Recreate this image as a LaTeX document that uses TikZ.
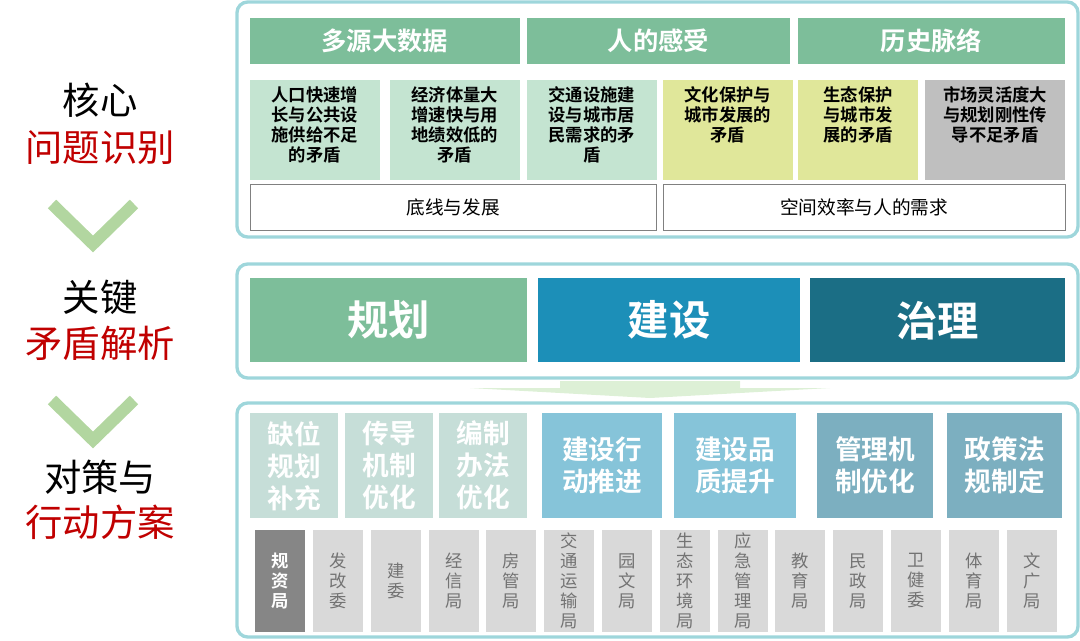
\documentclass[tikz,border=0pt]{standalone}
\usepackage{fontspec}
\setmainfont{Noto Sans CJK SC}[BoldFont={Noto Sans CJK SC Bold}]
\usetikzlibrary{positioning}
\definecolor{frame}{HTML}{9ED6DB}
\definecolor{hgreen}{HTML}{7DBE9A}
\definecolor{lgreen}{HTML}{C4E4D1}
\definecolor{lyellow}{HTML}{E0E79A}
\definecolor{lgray}{HTML}{BFBFBF}
\definecolor{pgreen}{HTML}{C6DED8}
\definecolor{pblue}{HTML}{86C4D9}
\definecolor{pteal}{HTML}{7CAFC0}
\definecolor{dblue}{HTML}{1C8FB8}
\definecolor{dteal}{HTML}{1B6E85}
\definecolor{cred}{HTML}{C00000}
\definecolor{chevc}{HTML}{B2D6A0}
\definecolor{arrowc}{HTML}{DDF0D6}
\tikzset{panel/.style={draw=frame, line width=2.5pt, rounded corners=8pt},
  head/.style={anchor=north west, fill=hgreen, text=white, font=\fontsize{19}{21}\selectfont\bfseries, inner sep=0pt},
  issue/.style={anchor=north west, font=\fontsize{13}{15}\selectfont\bfseries, align=center, inner sep=0pt},
  base/.style={anchor=north west, draw=gray, font=\fontsize{14}{16}\selectfont, inner sep=0pt},
  big/.style={anchor=north west, text=white, font=\fontsize{31}{33}\selectfont\bfseries, inner sep=0pt},
  act/.style={anchor=north west, text=white, font=\fontsize{20}{24}\selectfont\bfseries, align=center, inner sep=0pt},
  dept/.style={anchor=north west, fill=gray!30, text=gray!90!black, minimum width=37.5pt, minimum height=76pt, font=\fontsize{13}{15}\selectfont, align=center, inner sep=0pt},
  side/.style={font=\fontsize{28}{30}\selectfont},
  chev/.style={draw=chevc, line width=9pt}}
\begin{document}
\begin{tikzpicture}[x=0.75pt,y=-0.75pt]
\useasboundingbox (0,0) rectangle (1080,641);
% side labels
\node[side] (l1) at (100,100) {核心};
\node[side, text=cred] (l2) at (100,148) {问题识别};
\node[side] (l3) at (100,297) {关键};
\node[side, text=cred] (l4) at (100,343) {矛盾解析};
\node[side] (l5) at (100,477) {对策与};
\node[side, text=cred] (l6) at (100,522) {行动方案};
\draw[chev] (52,204) -- (93,244) -- (134,204);
\draw[chev] (52,400) -- (93,440) -- (134,400);
% panels
\draw[panel] (237,2) rectangle (1078,237);
\draw[panel] (237,264) rectangle (1078,378);
\draw[panel] (237,403) rectangle (1078,637);
% headers
\node[head, minimum width=202pt, minimum height=34pt] (h1) at (250,18) {多源大数据};
\node[head, minimum width=197pt, minimum height=34pt] (h2) at (527,18) {人的感受};
\node[head, minimum width=200pt, minimum height=34pt] (h3) at (798,18) {历史脉络};
\foreach \x/\w/\c/\t [count=\i] in {
  250/97/lgreen/{人口快速增\\长与公共设\\施供给不足\\的矛盾},
  390/97/lgreen/{经济体量大\\增速快与用\\地绩效低的\\矛盾},
  527/97/lgreen/{交通设施建\\设与城市居\\民需求的矛\\盾},
  663/97/lyellow/{文化保护与\\城市发展的\\矛盾},
  798/90/lyellow/{生态保护\\与城市发\\展的矛盾},
  925/105/lgray/{市场灵活度大\\与规划刚性传\\导不足矛盾}}{
  \node[issue, fill=\c, minimum width=\w pt, minimum height=75pt] (q\i) at (\x,80) {};
  \node[issue, anchor=north] (t\i) at (\x+\w*2/3,86) {\t};
}
\node[base, minimum width=304.5pt, minimum height=34.5pt] (b1) at (250,184) {底线与发展};
\node[base, minimum width=301.5pt, minimum height=34.5pt] (b2) at (663,184) {空间效率与人的需求};
% middle row
\node[big, fill=hgreen, minimum width=207.75pt, minimum height=63pt] (m1) at (250,278) {规划};
\node[big, fill=dblue, minimum width=196.5pt, minimum height=63pt] (m2) at (538,278) {建设};
\node[big, fill=dteal, minimum width=191.25pt, minimum height=63pt] (m3) at (810,278) {治理};
% arrow
\fill[arrowc] (560,381) -- (740,381) -- (740,388) -- (830,388) -- (650,398) -- (470,388) -- (560,388) -- cycle;
% actions
\foreach \x/\w/\c/\t [count=\i] in {
  250/88/pgreen/{缺位\\规划\\补充},
  345/88/pgreen/{传导\\机制\\优化},
  439/88/pgreen/{编制\\办法\\优化},
  542/120/pblue/{建设行\\动推进},
  674/122/pblue/{建设品\\质提升},
  817/116/pteal/{管理机\\制优化},
  947/115/pteal/{政策法\\规制定}}
  \node[act, fill=\c, minimum width=\w*0.75pt, minimum height=78.75pt, text width=\w*0.75pt] (a\i) at (\x,413) {\t};
% departments
\foreach \t [count=\i] in {发\\改\\委, 建\\委, 经\\信\\局, 房\\管\\局, 交\\通\\运\\输\\局, 园\\文\\局, 生\\态\\环\\境\\局, 应\\急\\管\\理\\局, 教\\育\\局, 民\\政\\局, 卫\\健\\委, 体\\育\\局, 文\\广\\局}
  \node[dept] (d\i) at (255+\i*57.8,530) {\t};
\node[dept, fill=gray!95!white, text=white, font=\fontsize{13}{15}\selectfont\bfseries] (d0) at (255,530) {规\\资\\局};
\end{tikzpicture}
\end{document}
